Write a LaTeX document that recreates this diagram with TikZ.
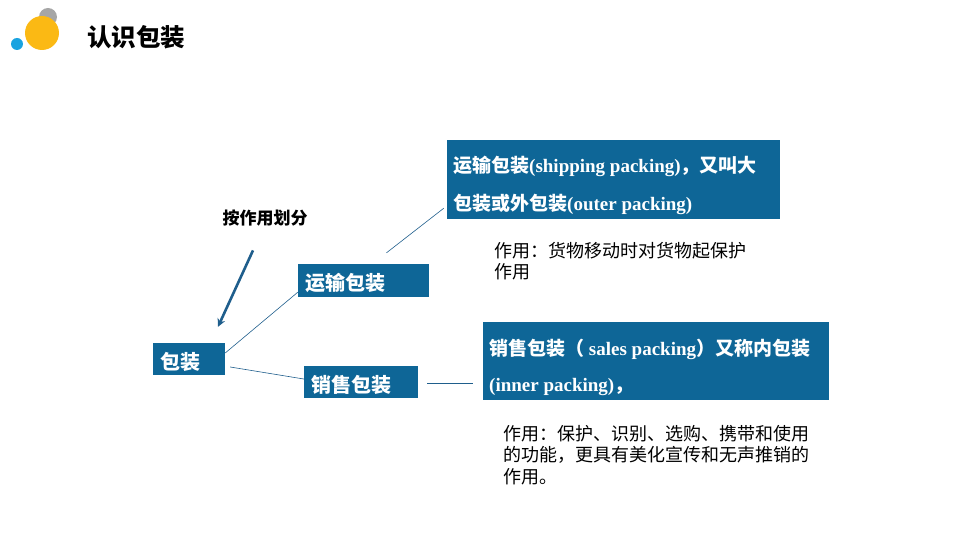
\documentclass[tikz,border=0pt]{standalone}
\usepackage{fontspec}
\setmainfont{Liberation Serif}
\newfontfamily\cjk{Noto Sans CJK SC}
\usetikzlibrary{calc,arrows.meta}
\definecolor{boxblue}{HTML}{0E6697}
\definecolor{arrowblue}{HTML}{1F5E8C}
\definecolor{logogray}{HTML}{A6A6A6}
\definecolor{logoyellow}{HTML}{FBB914}
\definecolor{logoblue}{HTML}{1AA3E0}
\newcommand{\cb}[1]{{\cjk\bfseries #1}}
\newcommand{\eb}[1]{{\bfseries #1}}
\tikzset{
  bluebox/.style={draw=none, fill=boxblue, rectangle, inner sep=0pt},
  boxtext/.style={anchor=base west, inner sep=0pt, text=white, font=\fontsize{19}{23}\selectfont},
  smalltext/.style={boxtext, font=\fontsize{20}{24}\selectfont},
  desc/.style={anchor=north west, inner sep=0pt, align=left, font=\cjk\fontsize{18}{21.5}\selectfont},
  conn/.style={draw=arrowblue, line width=0.6pt},
}
\begin{document}
\begin{tikzpicture}[x=1pt,y=-1pt]
\useasboundingbox (0,0) rectangle (960,540);
% logo
\fill[logogray] (48,17) circle (9);
\fill[logoyellow] (42,33) circle (17);
\fill[logoblue] (17,44) circle (6);
\node[anchor=west, inner sep=0pt, font=\cjk\bfseries\fontsize{24.5}{28}\selectfont] (title) at (87,37) {认识包装};

% boxes
\node[bluebox, minimum width=72, minimum height=32] (bz) at (189,359) {};
\node[bluebox, minimum width=131, minimum height=33] (ys) at (363.5,280.5) {};
\node[bluebox, minimum width=114, minimum height=32] (xs) at (361,382) {};
\node[bluebox, minimum width=333, minimum height=79] (big1) at (613.5,179.5) {};
\node[bluebox, minimum width=346, minimum height=78] (big2) at (656,361) {};

% box texts
\node[smalltext] (bzt) at (160,369.5) {\cb{包装}};
\node[smalltext] (yst) at (305,290.5) {\cb{运输包装}};
\node[smalltext] (xst) at (311,392.5) {\cb{销售包装}};
\node[boxtext] (b1a) at (453,173) {\cb{运输包装}\eb{(shipping packing)}\cb{，又叫大}};
\node[boxtext] (b1b) at (453,210) {\cb{包装或外包装}\eb{(outer packing)}};
\node[boxtext] (b2a) at (489,355) {\cb{销售包装（}\eb{ sales packing}\cb{）又称内包装}};
\node[boxtext] (b2b) at (489,391) {\eb{(inner packing)}\cb{，}};

% labels
\node[inner sep=0pt, font=\cjk\bfseries\fontsize{17}{20}\selectfont] (by) at (265,218) {按作用划分};
\node[desc] (d1) at (494,242) {作用：货物移动时对货物起保护\\作用};
\node[desc] (d2) at (503,425) {作用：保护、识别、选购、携带和使用\\的功能，更具有美化宣传和无声推销的\\作用。};

% arrow
\draw[arrowblue, line width=2.6pt, -{Stealth[length=8pt,width=8pt]}] ($(by.south)+(-12,24)$) -- ($(bz.north)+(29,-16)$);

% connectors
\draw[conn] ($(bz.east)+(0,-6)$) -- ($(ys.south west)+(0,-5)$);
\draw[conn] ($(bz.east)+(5,8)$) -- ($(xs.west)+(0,-3)$);
\draw[conn] ($(ys.north)+(23,-11)$) -- ($(big1.south west)+(-3,-11)$);
\draw[conn] ($(xs.east)+(9,1)$) -- ($(big2.west)+(-10,22)$);
\end{tikzpicture}
\end{document}
